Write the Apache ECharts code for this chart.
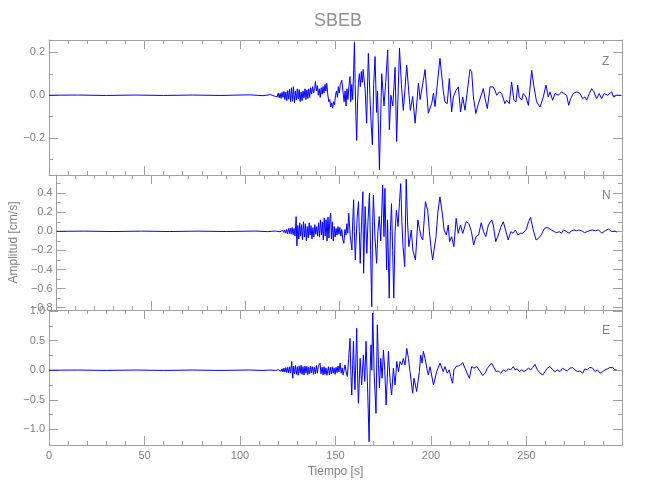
<!DOCTYPE html>
<html><head><meta charset="utf-8">
<script src="https://cdn.jsdelivr.net/npm/echarts@6/dist/echarts.min.js"></script>
<style>html,body{margin:0;padding:0;background:#fff}#c{width:650px;height:500px}</style>
</head><body><div id="c"></div>
<script>
const chartTitle = 'SBEB';
const componentNames = ['Z', 'N', 'E'];
const xLabel = 'Tiempo [s]';
const yLabel = 'Amplitud [cm/s]';
const timeRange = [0, 300];
const xMajorStep = 50;
const zRange = [-0.371, 0.257];
const nRange = [-0.824, 0.59];
const eRange = [-1.266, 1.02];
const zMajor = [-0.2, 0, 0.2];
const zMinor = [-0.3, -0.1, 0.1];
const nMajor = [-0.8, -0.6, -0.4, -0.2, 0, 0.2, 0.4];
const nMinor = [-0.7, -0.5, -0.3, -0.1, 0.1, 0.3, 0.5];
const eMajor = [-1, -0.5, 0, 0.5, 1];
const eMinor = [-0.75, -0.25, 0.25, 0.75];

const zData = [[0,0],[15,0.001],[30,-0.001],[45,0.001],[60,-0.001],[75,0.001],[90,-0.001],[105,0.002],[112,-0.002],[116,0.003],[118,-0.004],
[119,0.005],[119.5,-0.007],[120,0.01],[120.5,-0.012],[121,0.009],[121.5,-0.015],[122,0.014],[122.5,-0.01],[123,0.018],[123.5,-0.02],[124,0.015],[124.5,-0.025],[125,0.022],[125.5,-0.018],[126,0.028],[126.5,-0.03],[127,0.035],[127.5,-0.028],[128,0.04],[128.5,-0.035],[129,0.02],[129.5,-0.022],[130,0.03],[130.5,-0.018],[131,0.026],[131.5,-0.03],[132,0.015],[132.5,-0.025],[133,0.02],[133.5,-0.012],[134,0.03],[134.5,-0.02],[135,0.025],[135.5,-0.015],[136,0.03],[136.5,-0.01],
[137,0.035],[137.5,0.005],[138,0.04],[138.5,0.01],[139,0.03],[139.5,0.064],[140,0.02],[140.5,0.045],[141,0.0],[141.5,0.03],[142,-0.01],[142.5,0.035],[143,0.005],[143.5,0.04],[144,0.01],[144.5,0.05],[145,0.02],[145.4,0.056],[146,0.0],[146.5,-0.03],[147,-0.02],[147.5,-0.055],[148,-0.035],[148.5,-0.06],[149,-0.03],[149.5,-0.045],[150,0.0],[150.5,0.02],[151,-0.01],[151.5,0.04],[152,0.01],[152.5,0.05],[153.3,0.07],[154,0.01],[154.5,-0.03],[155,0.02],[155.5,-0.05],[156,0.03],[156.5,-0.02],[157,0.04],[157.6,0.087],[158,-0.03],[158.5,0.05],[159,-0.02],[159.5,0.12],[159.9,0.245],[160.3,0.05],[160.7,-0.1],[161.1,-0.21],[161.5,-0.05],[162,0.06],[162.5,0.1],[163,0.04],[163.5,0.11],[164,0.06],[164.5,0.12],[165,0.07],[165.5,0.03],[166.3,-0.13],[167.2,0.195],[168,0.0],[168.6,-0.12],[169.3,-0.23],[170,0.05],[170.7,0.18],[171.5,-0.08],[172,0.02],[173,-0.347],[174.2,0.1],[175.4,-0.05],[176.3,0.06],[177.3,0.21],[178.2,-0.16],[179,0.0],[180,-0.05],[181.2,0.13],[182,-0.215],[183.5,0.22],[184.5,0.05],[185.5,-0.07],[186.3,0.02],[187.3,0.14],[188.5,0.0],[189.2,-0.07],[190.4,-0.006],[191.7,-0.13],[193.4,0.056],[194.3,-0.02],[196,0.07],[196.9,0.12],[198.6,-0.084],[200.4,-0.037],[201.3,0.009],[202.1,-0.053],[204.7,0.172],[206.4,0.023],[207.3,-0.031],[208.5,-0.039],[209.6,0.078],[210.8,-0.078],[211.7,-0.008],[213.1,0.023],[214.3,0.039],[215.5,-0.078],[216.6,-0.008],[217.8,-0.07],[220.4,0.12],[221.3,0.11],[222.2,-0.008],[223.5,-0.085],[224.8,-0.04],[225.6,-0.047],[227.4,0.031],[228.3,-0.016],[229.5,-0.062],[230.9,0.039],[232.6,0.039],[233.5,0.023],[234.4,0],[235.8,0.016],[237,0.008],[238.7,-0.039],[239.6,-0.023],[241,-0.039],[242.2,0.062],[243.4,-0.023],[244.5,-0.031],[245.4,0.047],[246.2,-0.008],[247.5,-0.023],[248.3,0.008],[249.7,-0.008],[251,-0.047],[252.7,0.116],[253.9,0.039],[255.3,-0.031],[257.1,-0.055],[258.8,-0.008],[260.2,0.047],[261.4,-0.008],[262.3,0.016],[263.7,-0.023],[264.9,0.008],[265.8,0.016],[266.7,0],[268.4,0.016],[269.6,0.008],[271,0],[272.1,-0.047],[273.1,-0.016],[274.5,0.008],[276.3,0.016],[278,0.008],[279.4,-0.016],[280.6,-0.008],[281.5,-0.023],[282.9,0.008],[284.1,0.031],[285.3,0.016],[286.7,-0.016],[288.1,0.008],[289.3,-0.016],[290.7,0.008],[292.5,0],[294.6,0.016],[295.5,-0.008],[297.2,0],[299.5,0]];

const nData = [[0,0],[15,0.002],[30,-0.002],[45,0.002],[60,-0.002],[75,0.002],[90,-0.002],[105,0.003],[112,-0.003],[116,0.003],[118.5,-0.004],
[119,0.004],[119.5,-0.006],[120,0.01],[120.5,-0.012],[121,0.015],[121.5,-0.02],[122,0.018],[122.5,-0.025],[123,0.03],[123.5,-0.022],[124,0.035],[124.5,-0.03],[125,0.04],[125.5,-0.035],[126,0.03],[126.5,-0.05],[127.1,0.154],[127.5,-0.154],[128,0.06],[128.5,-0.08],[129,0.09],[129.5,-0.05],[130,0.07],[130.5,-0.09],[131,0.1],[131.5,-0.06],[132,0.08],[132.5,-0.1],[133,0.05],[133.5,-0.07],[134,0.09],[134.5,-0.04],[135,0.06],[135.5,-0.08],[136,0.04],[136.5,-0.06],[137,0.07],[137.5,-0.03],[138,0.05],[138.5,-0.05],[139,0.09],[139.5,-0.06],[140,0.12],[140.5,-0.04],[141,0.1],[141.5,-0.09],[142,0.14],[142.5,-0.05],[143,0.12],[143.5,-0.1],[144,0.15],[144.5,-0.07],[145,0.13],[145.4,0.19],[145.8,-0.08],[146.3,0.1],[146.8,-0.1],[147.3,0.05],[147.8,-0.06],[148.3,0.03],[148.8,-0.04],[149.3,0.05],[149.8,-0.03],[150.3,0.04],[150.8,-0.05],[151.3,0.02],[151.8,-0.08],[152.4,-0.125],[153,0.02],[153.5,-0.04],[154,0.08],[154.5,-0.02],[155,0.19],[155.8,-0.05],[156.7,-0.195],[157.1,0.1],[157.6,0.33],[158,0.0],[158.5,-0.3],[159,-0.05],[159.5,0.15],[160.2,0.31],[160.6,0.0],[161.1,-0.335],[161.8,0.1],[162.5,0.415],[162.9,-0.44],[163.7,0.26],[164.6,-0.23],[165.2,0.1],[166,0.4],[166.6,-0.2],[167.2,-0.79],[167.7,0.1],[168.1,0.38],[168.9,-0.05],[169.8,-0.335],[170.5,0.0],[171.2,0.154],[172,-0.1],[173,0.485],[173.7,-0.056],[174.2,0.45],[175.1,-0.405],[175.6,0.12],[176.5,-0.7],[177.1,0.0],[177.7,0.29],[178.3,-0.2],[178.9,-0.7],[179.6,0.0],[180.3,0.22],[181.2,0.05],[181.9,0.3],[182.6,0.5],[183.2,0.1],[183.8,-0.16],[184.7,-0.37],[185.5,0.545],[186.2,0.1],[186.9,-0.16],[188.2,0.014],[189,-0.195],[190.4,-0.3],[191.7,0.12],[192.5,0.03],[193.4,-0.056],[194.3,-0.09],[195.7,0.31],[196.9,0.22],[197.8,0.0],[198.6,-0.16],[199.5,-0.3],[201.3,-0.056],[202.3,0.2],[203.4,0.36],[204.7,0.18],[205.6,0.014],[206.8,-0.038],[207.8,0.066],[208.5,-0.108],[209.6,-0.056],[210.8,-0.16],[212,0.136],[213.1,-0.021],[214.3,0.066],[215.5,-0.021],[217.3,0.1],[218.7,0.084],[220.1,-0.003],[221.3,-0.143],[222.5,-0.056],[223.9,-0.038],[225.3,0.09],[226.5,-0.003],[227.7,-0.056],[229.1,0.066],[230.9,0.12],[231.7,0.066],[233,-0.108],[234.4,-0.038],[235.8,0.049],[237,0.1],[238.2,0.014],[239.6,-0.09],[241,-0.003],[242.2,-0.02],[243.4,0.014],[244.8,-0.038],[246.2,-0.02],[247.5,-0.02],[249.2,0.02],[250.4,0.1],[251.5,0.147],[252.7,0.03],[254.4,-0.09],[255.7,-0.073],[257.1,-0.038],[258.8,0.03],[260.2,0.04],[261.4,0.03],[262.6,0.014],[264,-0.003],[265.4,-0.014],[266.7,-0.003],[267.9,-0.02],[268.9,0.014],[270.1,0.003],[271.9,-0.02],[273.1,0.003],[274.5,0.014],[275.9,0.007],[277.1,0.014],[278.9,0.003],[280.1,-0.014],[281.5,-0.003],[282.9,0.007],[284.1,0.014],[285.9,0.007],[287.6,0.014],[289.3,-0.02],[291.1,0.007],[292.8,0.024],[294.6,-0.003],[296.3,0.003],[297.2,-0.007]];

const eData = [[0,0],[15,0.003],[30,-0.003],[45,0.003],[60,-0.003],[75,0.003],[90,-0.003],[105,0.004],[112,-0.004],[116,0.004],[118.5,-0.005],
[119,0.005],[119.5,-0.008],[120,0.01],[120.5,-0.015],[121,0.02],[121.5,-0.018],[122,0.025],[122.5,-0.03],[123,0.035],[123.5,-0.03],[124,0.045],[124.5,-0.04],[125,0.05],[125.5,-0.045],[126,0.06],[126.5,-0.05],[127.1,0.147],[127.6,-0.136],[128,0.07],[128.5,-0.06],[129,0.08],[129.5,-0.07],[130,0.06],[130.5,-0.085],[131,0.075],[131.5,-0.05],[132,0.085],[132.5,-0.07],[133,0.06],[133.5,-0.08],[134,0.07],[134.5,-0.05],[135,0.065],[135.5,-0.075],[136,0.05],[136.5,-0.06],[137,0.07],[137.5,-0.045],[138,0.06],[138.5,-0.07],[139,0.05],[139.5,-0.06],[140,0.08],[140.5,-0.05],[141,0.07],[141.9,0.12],[142.4,-0.06],[143,0.05],[143.5,-0.08],[144,0.06],[144.5,-0.07],[145,0.04],[145.5,-0.085],[146.3,0.06],[146.8,-0.08],[147.3,0.05],[147.8,-0.06],[148.3,0.06],[148.8,-0.05],[149.3,0.04],[149.8,-0.07],[150.3,0.05],[150.8,-0.04],[151.3,0.07],[151.8,-0.03],[152.4,0.12],[153,-0.05],[153.5,0.04],[154,-0.08],[155,0.09],[155.6,-0.03],[156.2,-0.107],[156.9,0.2],[157.6,0.54],[158,0.0],[158.5,-0.42],[159,0.1],[159.4,0.49],[159.8,0.0],[160.2,-0.33],[160.7,0.2],[161.1,0.71],[161.5,0.0],[162,-0.56],[162.9,0.2],[163.7,-0.25],[164.6,0.26],[165.3,-0.19],[166,0.49],[166.7,-0.19],[167.6,-1.21],[168.1,0.0],[168.6,0.43],[169,0.0],[169.5,0.97],[170.2,-0.02],[171.2,-0.73],[171.9,0.77],[172.5,0.1],[173,-0.3],[173.7,0.2],[174.4,-0.136],[175.1,0.34],[175.8,0.0],[176.5,-0.59],[177.7,0.32],[178.6,-0.19],[179.4,-0.42],[180.3,0.034],[181.2,-0.25],[182.1,0.147],[183,-0.023],[183.8,0.147],[184.7,0.09],[185.5,0.2],[186.4,0.09],[187.3,0.37],[188.2,0.2],[189,-0.023],[190.4,-0.39],[191.1,-0.136],[191.8,-0.107],[192.5,-0.36],[193.9,-0.023],[194.6,0.26],[195.3,0.12],[196,0.32],[196.9,0.2],[197.8,0.034],[198.6,-0.08],[199.5,0.06],[201.3,-0.25],[203,-0.023],[204.7,0.12],[205.6,0.09],[206.4,-0.023],[207.3,0.062],[208.5,-0.05],[209.6,0.006],[210.3,-0.107],[211.3,-0.22],[212,0.006],[213.1,0.062],[214.3,0.073],[215.5,0.09],[216.6,0.13],[217.8,0.034],[218.7,0.062],[220.1,-0.136],[221.3,0.062],[222.5,0.034],[223.9,0.062],[224.8,0.05],[225.6,-0.011],[227,-0.09],[228.3,-0.05],[229.5,0.034],[230.5,0.062],[231.7,0.12],[233,0.045],[234,-0.023],[235.2,-0.011],[236.5,-0.05],[237.9,0.006],[239.3,-0.023],[240.5,0.023],[241.7,0.006],[243.1,0.062],[244,0.006],[245.2,0.023],[246.2,-0.023],[247.5,0.006],[248.7,-0.023],[249.7,-0.05],[251,0.034],[252.2,0.006],[253.2,0.045],[254.4,0.1],[255.7,0.006],[257.1,-0.05],[258.5,-0.08],[259.7,-0.023],[260.9,0.034],[262.3,0.062],[263.7,0.006],[264.9,-0.023],[266.1,0.006],[267.5,-0.023],[268.9,0.034],[270.1,0.006],[271.4,-0.011],[272.8,0.034],[274.2,0.045],[275.4,0.006],[276.6,-0.023],[278,-0.011],[279.4,-0.05],[280.6,0.023],[281.8,0.006],[283.2,0.05],[284.6,0.034],[285.9,-0.023],[287.1,0.006],[288.5,-0.05],[289.9,-0.023],[291.1,0.006],[292.3,0.023],[293.7,0.045],[295.1,0.05],[296.3,0.006],[297.2,0.006]];

const AX = '#a0a0a0';
const TX = '#808080';
const FF = '"Liberation Sans", Arial, sans-serif';
const gridTops = [40, 175, 310];
const gridH = 135;
const ranges = [zRange, nRange, eRange];
const majors = [zMajor, nMajor, eMajor];
const minors = [zMinor, nMinor, eMinor];
const datas = [zData, nData, eData];

const fmtY = v => { const s = Math.abs(v).toFixed(1); return (v < -1e-9 ? '\u2212' : '') + s; };

const grids = [], xAxes = [], yAxes = [], series = [];
for (let i = 0; i < 3; i++) {
  grids.push({ left: 49, right: 28, top: gridTops[i], height: gridH, containLabel: false });
  ['bottom', 'top'].forEach(pos => {
    xAxes.push({
      type: 'value', gridIndex: i, position: pos, min: timeRange[0], max: timeRange[1], interval: xMajorStep,
      axisLine: { show: true, onZero: false, lineStyle: { color: AX, width: 1 } },
      axisTick: { show: true, inside: true, length: 9, lineStyle: { color: AX } },
      minorTick: { show: true, splitNumber: 5, length: 4, lineStyle: { color: AX } },
      axisLabel: { show: (i === 2 && pos === 'bottom'), color: TX, fontSize: 11, fontFamily: FF, margin: 5,
        formatter: v => (v >= timeRange[1] ? '' : String(v)) },
      splitLine: { show: false },
      name: (i === 2 && pos === 'bottom') ? xLabel : '',
      nameLocation: 'middle', nameGap: 21,
      nameTextStyle: { color: TX, fontSize: 12, fontFamily: FF }
    });
  });
  ['left', 'right'].forEach(pos => {
    [true, false].forEach(isMajor => {
      yAxes.push({
        type: 'value', gridIndex: i, position: pos, min: ranges[i][0], max: ranges[i][1],
        axisLine: { show: isMajor, onZero: false, lineStyle: { color: AX, width: 1 } },
        axisTick: { show: true, inside: true, length: isMajor ? 9 : 4,
          customValues: isMajor ? majors[i] : minors[i], lineStyle: { color: AX } },
        axisLabel: { show: isMajor && pos === 'left', customValues: majors[i], formatter: fmtY,
          color: TX, fontSize: 11, fontFamily: FF, margin: 4 },
        splitLine: { show: false },
        name: (i === 1 && pos === 'left' && isMajor) ? yLabel : '',
        nameLocation: 'middle', nameGap: 29, nameRotate: 90,
        nameTextStyle: { color: TX, fontSize: 12, fontFamily: FF }
      });
    });
  });
  series.push({
    type: 'line', name: componentNames[i], xAxisIndex: 2 * i, yAxisIndex: 4 * i,
    data: datas[i], showSymbol: false, symbol: 'none', animation: false,
    lineStyle: { color: '#0000ff', width: 1 }, clip: true
  });
}

const graphics = [{ type: 'text', left: 336 - 22, top: 12, style: { text: chartTitle, fill: '#909090',
  font: '18px "Liberation Sans Narrow", "Liberation Sans", sans-serif', textAlign: 'left' } }];
const labelY = [56, 190, 325];
componentNames.forEach((c, i) => {
  graphics.push({ type: 'text', left: 602, top: labelY[i], style: { text: c, fill: '#808080',
    font: '12px "Liberation Sans", sans-serif' } });
});

const chart = echarts.init(document.getElementById('c'), null, { renderer: 'canvas' });
chart.setOption({
  animation: false,
  backgroundColor: '#ffffff',
  grid: grids, xAxis: xAxes, yAxis: yAxes, series: series,
  graphic: graphics
});
</script>
</body></html>
